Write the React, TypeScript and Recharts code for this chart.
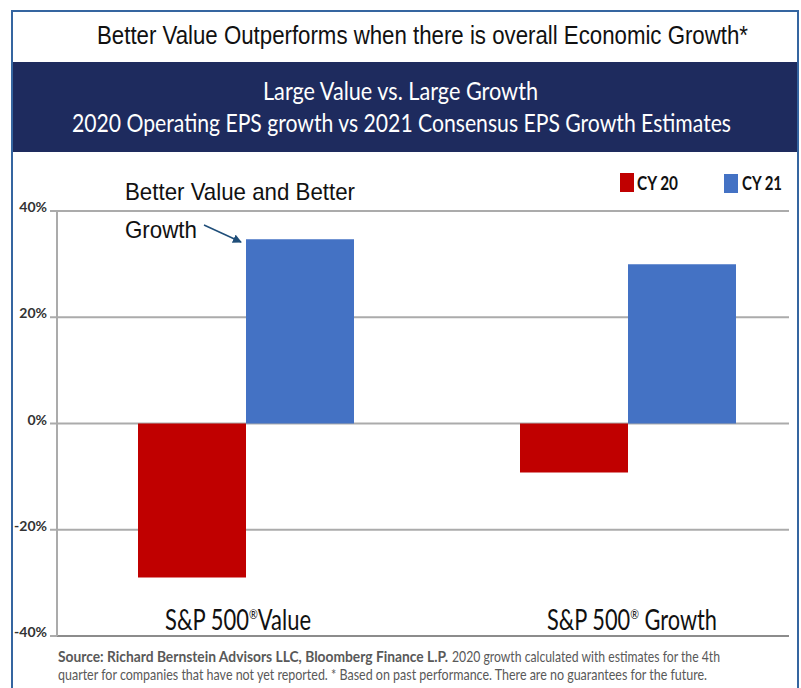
import React from "react";
import { BarChart, Bar, XAxis, YAxis, CartesianGrid, ReferenceLine } from "recharts";

const categories = ["S&P 500®Value", "S&P 500® Growth"];
const cy20 = [-29, -9.2];
const cy21 = [34.7, 30];
const yTicks = [-40, -20, 0, 20, 40];
const seriesNames = ["CY 20", "CY 21"];

const data = categories.map((name, i) => ({ name, cy20: cy20[i], cy21: cy21[i] }));

const ARIAL = "'Liberation Sans', Arial, sans-serif";
const CAL = "Lato, 'Open Sans', sans-serif";
const RED = "#c00000";
const BLUE = "#4472c4";
const GRID = "#ababab";

// widths the category labels take in the reference
const catWidths = [146, 170];

function YTick(props: any) {
  const { x, y, payload } = props;
  return (
    <text x={x - 1} y={y + 1} textAnchor="end" fontFamily={CAL} fontSize={14} fontWeight={700} fill="#333">
      {payload.value}%
    </text>
  );
}

function XTick(props: any) {
  const { x, y, payload, index } = props;
  const [a, b] = String(payload.value).split("®");
  return (
    <text
      x={x - 81}
      y={y - 14}
      textAnchor="start"
      fontFamily={CAL}
      fontSize={29}
      fill="#111"
      textLength={catWidths[index]}
      lengthAdjust="spacingAndGlyphs"
    >
      <tspan>{a}</tspan>
      <tspan fontSize={14} dy={-11}>®</tspan>
      <tspan dy={11}>{b}</tspan>
    </text>
  );
}

export default function App() {
  return (
    <div style={{ position: "absolute", left: 0, top: 0, width: 801, height: 688, background: "#fff", overflow: "hidden" }}>
      {/* frame */}
      <div style={{ position: "absolute", left: 11, top: 10, width: 784, height: 700, border: "2px solid #3565a0" }} />
      {/* navy band */}
      <div style={{ position: "absolute", left: 13, top: 62, width: 784, height: 90, background: "#1e2b5e" }} />

      <div style={{ position: "absolute", left: 0, top: 0 }}>
        <BarChart width={801} height={688} data={data} margin={{ top: 211, right: 12, bottom: 51, left: 0 }} barGap={0} barSize={108}>
          <CartesianGrid horizontal vertical={false} stroke={GRID} strokeWidth={2} />
          <XAxis
            dataKey="name"
            height={1}
            axisLine={false}
            tickLine={false}
            tick={<XTick />}
            padding={{ left: -2, right: -30 }}
            interval={0}
          />
          <YAxis
            width={57}
            domain={[-40, 40]}
            ticks={yTicks}
            interval={0}
            axisLine={{ stroke: GRID, strokeWidth: 2 }}
            tickLine={{ stroke: GRID, strokeWidth: 2 }}
            tickSize={7}
            tick={<YTick />}
          />
          <ReferenceLine y={-40} stroke="#8c8c8c" strokeWidth={2} />
          <Bar dataKey="cy20" name={seriesNames[0]} fill={RED} isAnimationActive={false} />
          <Bar dataKey="cy21" name={seriesNames[1]} fill={BLUE} isAnimationActive={false} />
        </BarChart>
      </div>

      <svg style={{ position: "absolute", left: 0, top: 0 }} width={801} height={688} pointerEvents="none">
        <defs>
          <marker id="ah" markerWidth="9" markerHeight="9" refX="8" refY="4.5" orient="auto" markerUnits="userSpaceOnUse">
            <path d="M0,0 L9,4.5 L0,9 Z" fill="#1f4e79" />
          </marker>
        </defs>

        {/* title */}
        <text x={97} y={44} fontFamily={ARIAL} fontSize={25} fill="#111" textLength={651} lengthAdjust="spacingAndGlyphs">
          Better Value Outperforms when there is overall Economic Growth*
        </text>
        <text x={263} y={100} fontFamily={CAL} fontSize={25} fill="#fff" textLength={275} lengthAdjust="spacingAndGlyphs">
          Large Value vs. Large Growth
        </text>
        <text x={72} y={132} fontFamily={CAL} fontSize={25} fill="#fff" textLength={659} lengthAdjust="spacingAndGlyphs">
          2020 Operating EPS growth vs 2021 Consensus EPS Growth Estimates
        </text>

        {/* legend */}
        <rect x={620} y={173} width={14} height={19} fill={RED} />
        <text x={637} y={190} fontFamily={CAL} fontSize={18} fontWeight={700} fill="#111" textLength={41} lengthAdjust="spacingAndGlyphs">
          {seriesNames[0]}
        </text>
        <rect x={724} y={174} width={14} height={19} fill={BLUE} />
        <text x={742} y={190} fontFamily={CAL} fontSize={18} fontWeight={700} fill="#111" textLength={40} lengthAdjust="spacingAndGlyphs">
          {seriesNames[1]}
        </text>

        {/* annotation */}
        <text x={125} y={200} fontFamily={ARIAL} fontSize={24} fill="#111" textLength={230} lengthAdjust="spacingAndGlyphs">
          Better Value and Better
        </text>
        <text x={125} y={238} fontFamily={ARIAL} fontSize={24} fill="#111" textLength={72} lengthAdjust="spacingAndGlyphs">
          Growth
        </text>
        <line x1={204} y1={225} x2={241} y2={242} stroke="#1f4e79" strokeWidth={1.5} markerEnd="url(#ah)" />

        {/* footer */}
        <text x={58} y={662} fontFamily={CAL} fontSize={15} fontWeight={700} fill="#595959" textLength={390} lengthAdjust="spacingAndGlyphs">
          Source: Richard Bernstein Advisors LLC, Bloomberg Finance L.P.
        </text>
        <text x={452} y={662} fontFamily={CAL} fontSize={15} fill="#595959" textLength={268} lengthAdjust="spacingAndGlyphs">
          2020 growth calculated with estimates for the 4th
        </text>
        <text x={58} y={680} fontFamily={CAL} fontSize={15} fill="#595959" textLength={649} lengthAdjust="spacingAndGlyphs">
          quarter for companies that have not yet reported. * Based on past performance. There are no guarantees for the future.
        </text>
      </svg>
    </div>
  );
}
